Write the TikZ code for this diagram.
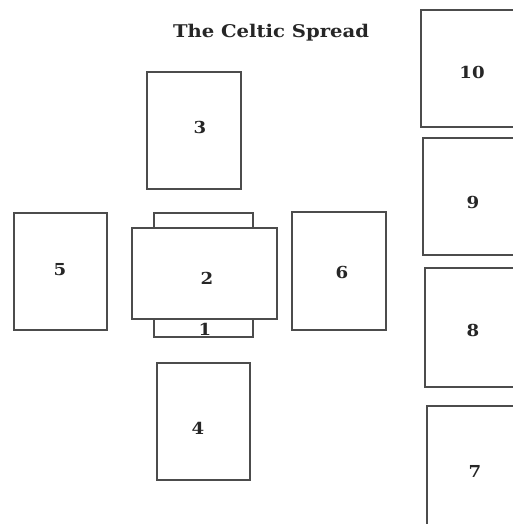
\documentclass[tikz,border=0pt]{standalone}
\usepackage{fontspec}
\setmainfont{DejaVu Serif}
\newcommand{\wide}[2]{\scalebox{#1}[1]{#2}}
\begin{document}
\begin{tikzpicture}[x=1pt,y=-1pt,
  card/.style={draw=black!70, line width=1.1pt, fill=white},
  lbl/.style={font=\fontsize{16.5}{17}\selectfont\bfseries, text=black!85, inner sep=0pt}]
\useasboundingbox (0,0) rectangle (512,524);
\fill[white] (0,0) rectangle (512,524);
% title
\node[font=\fontsize{17.5}{18}\selectfont\bfseries, text=black!85, inner sep=0pt] (title) at (271,33) {\wide{1.12}{The Celtic Spread}};
% card 1 (under card 2)
\draw[card] (154,213) rectangle (253,337);
\node[lbl] (l1) at (205,329) {\wide{1.1}{1}};
% card 2 (crossing)
\draw[card] (132,228) rectangle (277,319);
\node[lbl] (l2) at (207,278) {\wide{1.1}{2}};
% card 3
\draw[card] (147,72) rectangle (241,189);
\node[lbl] (l3) at (200,127) {\wide{1.1}{3}};
% card 4
\draw[card] (157,363) rectangle (250,480);
\node[lbl] (l4) at (198,428) {\wide{1.1}{4}};
% card 5
\draw[card] (14,213) rectangle (107,330);
\node[lbl] (l5) at (60,270) {\wide{1.1}{5}};
% card 6
\draw[card] (292,212) rectangle (386,330);
\node[lbl] (l6) at (342,272) {\wide{1.1}{6}};
% staff cards (cut at right edge)
\draw[card] (421,10) rectangle (530,127);
\node[lbl] (l10) at (472,72) {\wide{1.1}{10}};
\draw[card] (423,138) rectangle (530,255);
\node[lbl] (l9) at (473,202) {\wide{1.1}{9}};
\draw[card] (425,268) rectangle (530,387);
\node[lbl] (l8) at (473,330) {\wide{1.1}{8}};
\draw[card] (427,406) rectangle (530,540);
\node[lbl] (l7) at (475,471) {\wide{1.1}{7}};
\end{tikzpicture}
\end{document}
